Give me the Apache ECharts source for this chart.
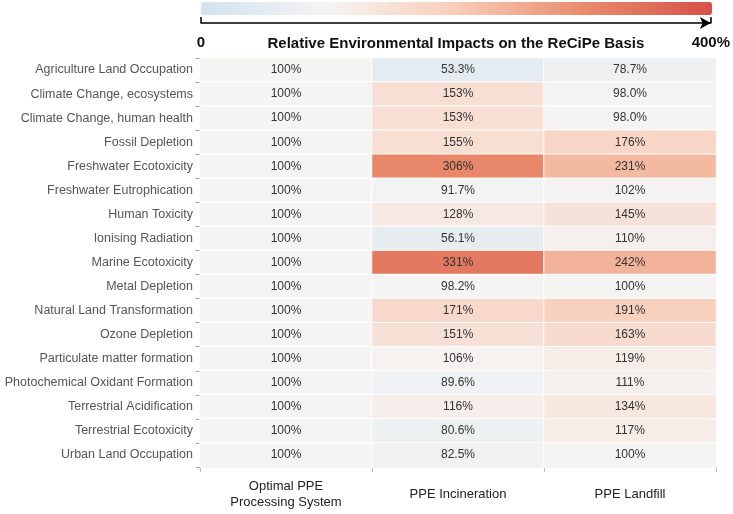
<!DOCTYPE html>
<html>
<head>
<meta charset="utf-8">
<script src="https://cdn.jsdelivr.net/npm/echarts@6/dist/echarts.min.js"></script>
<style>
    html, body { margin: 0; padding: 0; background: #fff; }
    #chart { width: 733px; height: 514px; }
</style>
</head>
<body>
<div id="chart"></div>
<script>
    // impact categories (top to bottom)
    var categories = [
        'Agriculture Land Occupation', 'Climate Change, ecosystems', 'Climate Change, human health',
        'Fossil Depletion', 'Freshwater Ecotoxicity', 'Freshwater Eutrophication', 'Human Toxicity',
        'Ionising Radiation', 'Marine Ecotoxicity', 'Metal Depletion', 'Natural Land Transformation',
        'Ozone Depletion', 'Particulate matter formation', 'Photochemical Oxidant Formation',
        'Terrestrial Acidification', 'Terrestrial Ecotoxicity', 'Urban Land Occupation'
    ];
    var systems = ['Optimal PPE\nProcessing System', 'PPE Incineration', 'PPE Landfill'];

    // relative impacts, %
    var optimal = [100, 100, 100, 100, 100, 100, 100, 100, 100, 100, 100, 100, 100, 100, 100, 100, 100];
    var incineration = [53.3, 153, 153, 155, 306, 91.7, 128, 56.1, 331, 98.2, 171, 151, 106, 89.6, 116, 80.6, 82.5];
    var landfill = [78.7, 98.0, 98.0, 176, 231, 102, 145, 110, 242, 100, 191, 163, 119, 111, 134, 117, 100];

    var scaleMin = 0, scaleMax = 400;

    var data = [];
    [optimal, incineration, landfill].forEach(function (col, ci) {
        for (var r = 0; r < col.length; r++) {
            data.push([ci, r, col[r]]);
        }
    });

    function fmt(v) {
        return (v >= 100 ? Math.round(v) : v.toFixed(1)) + '%';
    }

    var myChart = echarts.init(document.getElementById('chart'));
    var option = {
        animation: false,
        textStyle: { fontFamily: 'Liberation Sans, Arial, sans-serif' },
        grid: [
            { left: 200, right: 17, top: 58, bottom: 47 },
            // axis for the scale arrow
            { left: 201, right: 21, top: 22, height: 1 }
        ],
        visualMap: {
            type: 'continuous',
            min: scaleMin,
            max: scaleMax,
            seriesIndex: 0,
            orient: 'horizontal',
            left: 201,
            top: 2,
            padding: 0,
            itemWidth: 13,
            itemHeight: 511,
            text: null,
            calculable: false,
            showLabel: false,
            inRange: {
                color: ['#d2e3ef', '#f5f4f3', '#f8cdb9', '#e98b6c', '#d6504a']
            }
        },
        xAxis: [
            {
                type: 'category',
                data: systems,
                gridIndex: 0,
                axisLine: { show: true, lineStyle: { color: '#bbb' } },
                axisTick: { show: true, lineStyle: { color: '#bbb' } },
                splitArea: { show: false },
                axisLabel: { color: '#222', fontSize: 13, margin: 27, lineHeight: 16, verticalAlign: 'middle' }
            },
            {
                type: 'value',
                gridIndex: 1,
                min: scaleMin,
                max: scaleMax,
                interval: 400,
                name: 'Relative Environmental Impacts on the ReCiPe Basis',
                nameLocation: 'middle',
                nameGap: 13,
                nameMoveOverlap: false,
                nameTextStyle: { color: '#111', fontSize: 15, fontWeight: 'bold' },
                axisLine: {
                    show: true,
                    symbol: ['none', 'arrow'],
                    symbolSize: [9, 11],
                    lineStyle: { color: '#000', width: 1.5 }
                },
                axisTick: { show: true, inside: true, length: 6, lineStyle: { color: '#000', width: 1.5 } },
                splitLine: { show: false },
                axisLabel: {
                    color: '#111',
                    fontSize: 15,
                    fontWeight: 'bold',
                    margin: 12,
                    formatter: function (v) { return v === scaleMax ? v + '%' : v; }
                }
            }
        ],
        yAxis: [
            {
                type: 'category',
                data: categories,
                inverse: true,
                gridIndex: 0,
                axisLine: { show: true, lineStyle: { color: '#e4e4e4' } },
                axisTick: { show: true, length: 4, lineStyle: { color: '#999' } },
                axisLabel: { color: '#555', fontSize: 12.5, margin: 7 }
            },
            { type: 'value', gridIndex: 1, show: false }
        ],
        series: [
            {
                type: 'heatmap',
                xAxisIndex: 0,
                yAxisIndex: 0,
                data: data,
                itemStyle: { borderColor: '#fff', borderWidth: 1 },
                label: {
                    show: true,
                    color: '#333',
                    fontSize: 12,
                    formatter: function (p) { return fmt(p.value[2]); }
                }
            }
        ]
    };
    option && myChart.setOption(option);
</script>
</body>
</html>
